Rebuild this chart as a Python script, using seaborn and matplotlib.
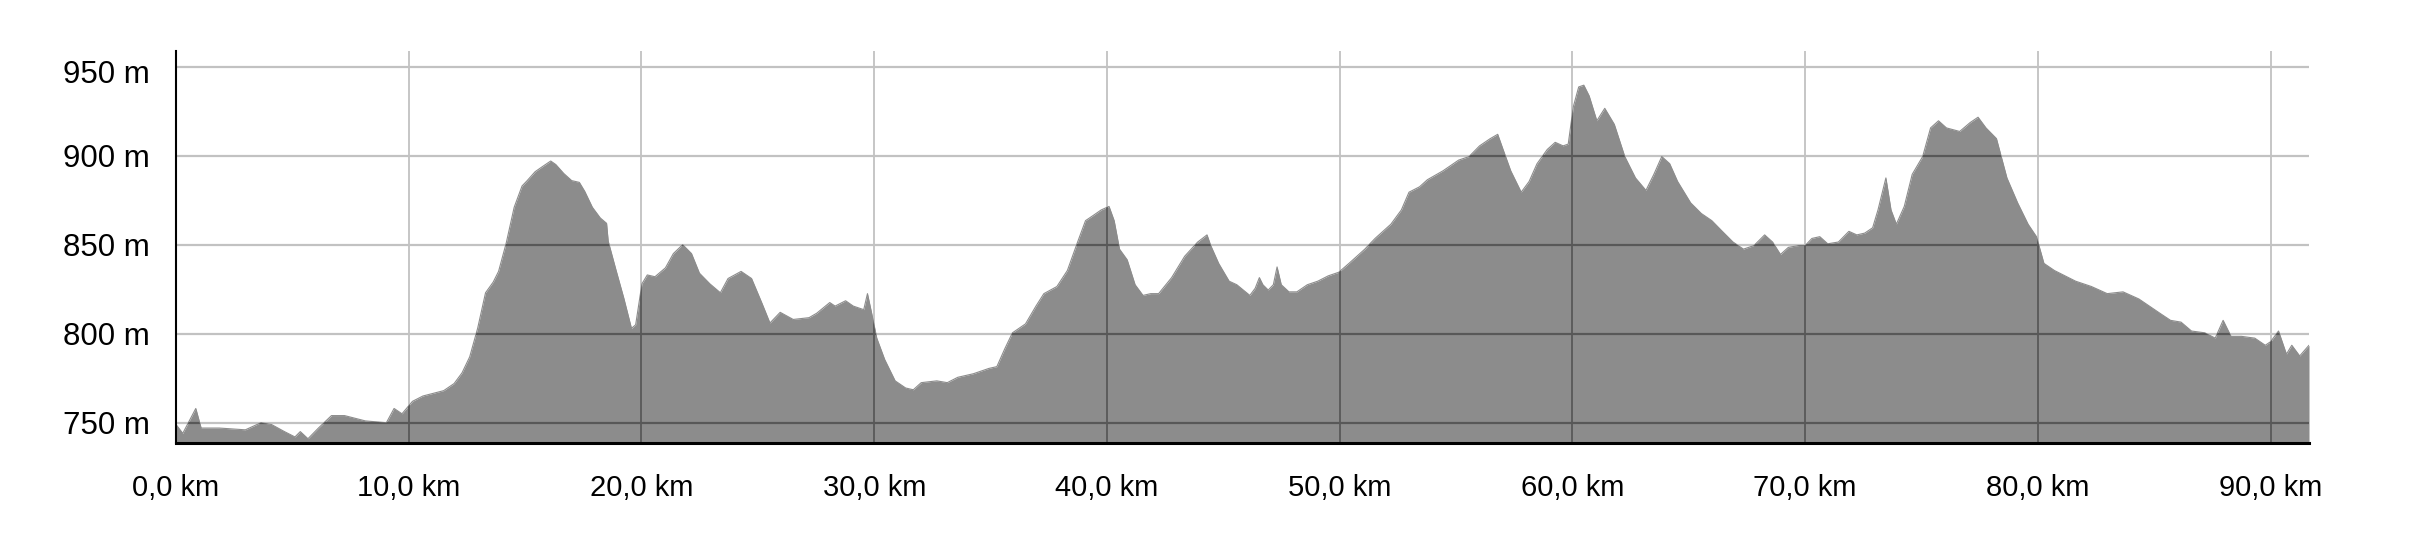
import matplotlib
matplotlib.use("Agg")
import matplotlib.pyplot as plt
import matplotlib.transforms as mtransforms
import seaborn as sns
import numpy as np

# distance along route (km)
distance_km = [
    0.0, 0.29, 0.85, 1.08, 1.86, 2.98, 3.65, 4.10, 4.66, 5.11, 5.34, 5.67, 6.12, 6.68,
    7.24, 8.14, 9.04, 9.37, 9.71, 10.16, 10.61, 11.50, 11.95, 12.29, 12.62, 12.96, 13.30,
    13.63, 13.86, 14.19, 14.53, 14.87, 15.09, 15.43, 15.76, 16.10, 16.32, 16.66, 17.00,
    17.33, 17.56, 17.89, 18.23, 18.50, 18.57, 18.90, 19.24, 19.57, 19.75, 20.02, 20.25,
    20.58, 21.03, 21.37, 21.77, 22.15, 22.49, 22.94, 23.39, 23.72, 24.28, 24.73, 25.18,
    25.52, 25.96, 26.52, 27.20,
    27.53, 28.09, 28.32, 28.77, 29.10, 29.55, 29.71, 29.89, 30.11, 30.45, 30.90, 31.35,
    31.68, 32.02, 32.69, 33.14, 33.59, 34.26, 34.93, 35.27, 35.61, 35.94, 36.50, 36.95,
    37.29, 37.85, 38.30, 38.74, 39.08, 39.42, 39.75, 40.09, 40.31, 40.54, 40.87, 41.21,
    41.55, 41.88, 42.22, 42.78, 43.34, 43.90, 44.30, 44.46, 44.80, 45.25, 45.58, 46.14,
    46.37, 46.55, 46.70, 46.93, 47.15, 47.31, 47.49, 47.82, 48.16, 48.61, 49.06, 49.51,
    49.96, 50.40, 51.08, 51.52, 52.20, 52.65, 52.98, 53.43, 53.77, 54.44, 55.11, 55.56,
    56.01, 56.46, 56.79, 57.02, 57.35, 57.80, 58.14, 58.48, 58.92, 59.26, 59.60, 59.82,
    60.04, 60.27, 60.49, 60.72, 61.05, 61.39,
    61.80, 62.25, 62.71, 63.16, 63.50, 63.84, 64.18, 64.52, 65.08, 65.54, 65.99, 66.44,
    66.90, 67.35, 67.80, 68.26, 68.60, 68.94, 69.28, 69.73, 70.00, 70.29, 70.63, 70.97,
    71.43, 71.88, 72.22, 72.56, 72.90, 73.13, 73.47, 73.69, 73.92, 74.26, 74.60, 75.05,
    75.39, 75.73, 76.07, 76.64, 77.09, 77.43, 77.77, 78.22, 78.67, 79.13, 79.58, 79.94,
    80.26, 80.71, 81.17, 81.62, 82.30, 82.98, 83.66, 84.34, 84.79, 85.24, 85.70, 86.15,
    86.60, 87.17, 87.62, 87.96, 88.30, 88.75, 89.32, 89.77, 90.00, 90.34, 90.68, 90.91,
    91.25, 91.65,
]

# elevation (m)
elevation_m = [
    749, 744, 758, 747, 747, 746, 750, 749, 745, 742, 745, 741, 747, 754,
    754, 751, 750, 758, 755, 762, 765, 768, 772, 778, 787, 803, 823,
    829, 835, 851, 871, 883, 886, 891, 894, 897, 895, 890, 886,
    885, 880, 871, 865, 862, 852, 836, 820, 803, 805, 828, 833,
    832, 837, 845, 850, 845, 834, 828, 823, 831, 835, 831, 817,
    806, 812, 808, 809,
    811.5, 817.5, 815.5, 818.5, 815.5, 813.5, 822.5, 811.5, 797.5, 785.5, 773.5, 769.5,
    768.5, 772.5, 773.5, 772.5, 775.5, 777.5, 780.5, 781.5, 791.5, 800.5, 805.5, 815.5,
    822.5, 826.5, 835.5, 851.5, 863.5, 866.5, 869.5, 871.5, 863.5, 847.5, 841.5, 827.5,
    821.5, 822.5, 822.5, 831.5, 843.5, 851.5, 855.5, 849.5, 839.5, 829.5, 827.5, 821.5,
    825.5, 831.5, 827.5, 824.5, 827.5, 837.5, 827.5, 823.5, 823.5, 827.5, 829.5, 832.5,
    834.5, 839.5, 847.5, 853.5, 861.5, 869.5, 879.5, 882.5, 886.5, 891.5, 897.5, 899.5,
    905.5, 909.5, 912.0, 903.5, 891.5, 879.5, 885.5, 895.5, 903.5, 907.5, 905.5, 906.5,
    927.5, 938.6, 939.6, 933.6, 919.6, 926.6,
    917.6, 899.5, 887.5, 880.5, 889.5, 899.5, 895.5, 885.5, 873.5, 867.5, 863.5, 857.5,
    851.5, 847.5, 849.5, 855.5, 851.5, 844.5, 848.5, 849.5, 849.5, 853.5, 854.5, 850.5,
    851.5, 857.5, 855.5, 856.5, 859.5, 869.5, 887.5, 869.5, 861.5, 871.5, 889.5, 899.5,
    915.6, 919.6, 915.6, 913.6, 918.6, 921.6, 915.6, 909.6, 887.5, 873.5, 861.5, 854.5,
    839.5, 835.5, 832.5, 829.5, 826.5, 822.5, 823.5, 819.5, 815.5, 811.5, 807.5, 806.5,
    801.5, 800.5, 797.5, 807.5, 798.5, 798.5, 797.5, 793.5, 795.5, 801.5, 788.5, 793.5,
    787.5, 793.5,
]

x_ticks = [0, 10, 20, 30, 40, 50, 60, 70, 80, 90]
x_tick_labels = ["0,0 km", "10,0 km", "20,0 km", "30,0 km", "40,0 km",
                 "50,0 km", "60,0 km", "70,0 km", "80,0 km", "90,0 km"]
y_ticks = [750, 800, 850, 900, 950]
y_tick_labels = ["750 m", "800 m", "850 m", "900 m", "950 m"]

X_MIN, X_MAX = 0.0, 91.65
Y_MIN, Y_MAX = 738.6, 958.8

sns.set_theme(style="white")
plt.rcParams["font.family"] = ["Liberation Sans", "DejaVu Sans"]

fig = plt.figure(figsize=(24.28, 5.6), dpi=100)
ax = fig.add_axes([0.07249, 0.20893, 0.8785, 0.70])

FILL = "#8c8c8c"
GRID_LIGHT = "#c2c2c2"
GRID_DARK = "#585858"

# light grid underneath
for xv in x_ticks:
    ax.axvline(xv, color=GRID_LIGHT, lw=1.3, zorder=0)
for yv in y_ticks:
    ax.axhline(yv, color=GRID_LIGHT, lw=1.6, zorder=0)

poly = ax.fill_between(distance_km, elevation_m, Y_MIN, color=FILL, lw=0, zorder=1)
sns.lineplot(x=distance_km, y=elevation_m, ax=ax, color=FILL, lw=0.8, zorder=1.5,
             sort=False, estimator=None)

# darker grid where it crosses the profile
clip_path = poly.get_paths()[0]
for xv in x_ticks:
    ln = ax.axvline(xv, color=GRID_DARK, lw=1.3, zorder=2)
    ln.set_clip_path(clip_path, ax.transData)
for yv in y_ticks:
    ln = ax.axhline(yv, color=GRID_DARK, lw=1.6, zorder=2)
    ln.set_clip_path(clip_path, ax.transData)

ax.set_xlim(X_MIN, X_MAX)
ax.set_ylim(Y_MIN, Y_MAX)

ax.set_xticks(x_ticks)
ax.set_xticklabels(x_tick_labels)
ax.set_yticks(y_ticks)
ax.set_yticklabels(y_tick_labels)
ax.set_xticks([X_MIN, X_MAX], minor=True)
ax.set_yticks([Y_MIN, Y_MAX], minor=True)

ax.tick_params(axis="both", which="major", length=0, labelcolor="black")
ax.tick_params(axis="x", which="major", pad=22, labelsize=21)
ax.tick_params(axis="y", which="major", pad=19, labelsize=22.5)
ax.tick_params(axis="both", which="minor", length=11, width=1.5, color="black",
               direction="out")

# top label sits a little below its gridline in the reference
top_lbl = ax.get_yticklabels()[-1]
top_lbl.set_transform(top_lbl.get_transform() +
                      mtransforms.ScaledTranslation(0, -5 / 100, fig.dpi_scale_trans))

for side in ["top", "right"]:
    ax.spines[side].set_visible(False)
ax.spines["left"].set_color("black")
ax.spines["left"].set_linewidth(1.5)
ax.spines["bottom"].set_color("black")
ax.spines["bottom"].set_linewidth(2.2)
ax.spines["left"].set_zorder(3)
ax.spines["bottom"].set_zorder(3)

ax.set_xlabel("")
ax.set_ylabel("")
ax.set_facecolor("white")
fig.patch.set_facecolor("white")

fig.savefig("out.png", dpi=100, facecolor="white")
